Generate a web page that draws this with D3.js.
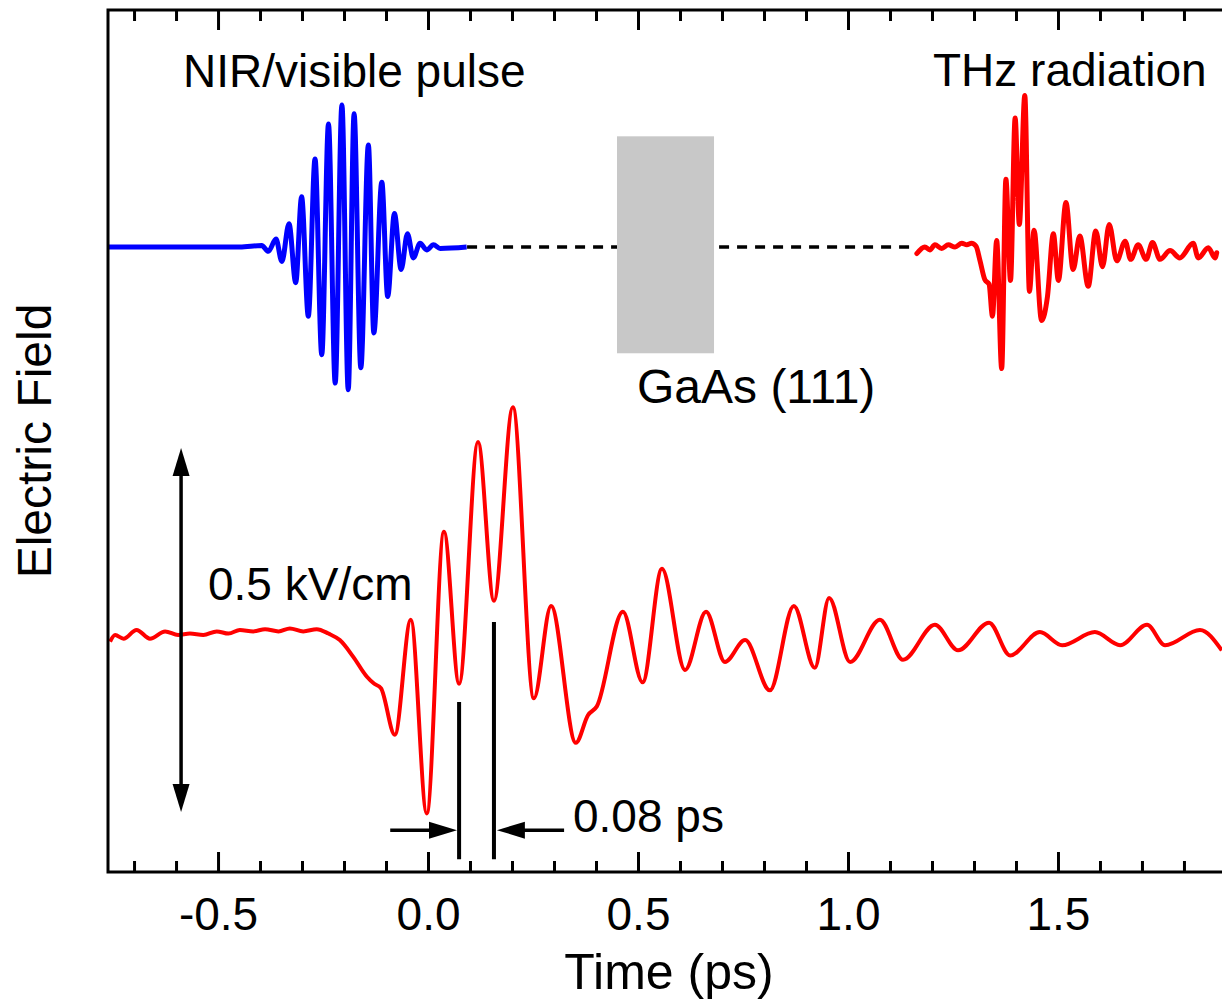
<!DOCTYPE html>
<html>
<head>
<meta charset="utf-8">
<script src="https://cdn.jsdelivr.net/npm/d3@7"></script>
<style>
  html, body { margin: 0; padding: 0; background: #fff; overflow: hidden; }
  text { font-family: Arial, "Liberation Sans", sans-serif; fill: #000; }
</style>
</head>
<body>
<svg id="chart" width="1222" height="1002"></svg>
<script>
// Time axis (ps)
const majorTicks = [-0.5, 0.0, 0.5, 1.0, 1.5];
const minorTicks = [-0.7, -0.6, -0.4, -0.3, -0.2, -0.1, 0.1, 0.2, 0.3, 0.4,
                    0.6, 0.7, 0.8, 0.9, 1.1, 1.2, 1.3, 1.4, 1.6, 1.7, 1.8, 1.9];

// Upper sketch traces are drawn around this field offset (kV/cm)
const upperOffset = 0.533;

// NIR / visible pulse [time ps, field rel. to offset]
const nirPulse = [
  [-0.762, 0], [-0.448, 0], [-0.396, 0.002], [-0.380, -0.006], [-0.362, 0.011],
  [-0.348, -0.020], [-0.331, 0.032], [-0.315, -0.049], [-0.301, 0.069], [-0.285, -0.095],
  [-0.269, 0.121], [-0.253, -0.148], [-0.237, 0.169], [-0.221, -0.187], [-0.205, 0.195],
  [-0.190, -0.196], [-0.176, 0.183], [-0.160, -0.166], [-0.142, 0.140], [-0.129, -0.118],
  [-0.110, 0.089], [-0.096, -0.068], [-0.080, 0.046], [-0.064, -0.031], [-0.049, 0.018],
  [-0.035, -0.015], [-0.019, 0.005], [-0.003, -0.004], [0.013, 0.003], [0.029, -0.002],
  [0.092, 0]
];

// dashed propagation line (time span)
const propagation = [0.093, 1.162];

// GaAs (111) crystal block [t0, t1, v0, v1] rel. to offset
const gaAsBlock = [0.450, 0.681, -0.146, 0.152];

// THz sketch above crystal [time ps, field rel. to offset]
const thzSketch = [
  [1.164, -0.009], [1.183, 0.000], [1.195, -0.004], [1.207, 0.003], [1.223, -0.002],
  [1.239, 0.003], [1.255, 0.000], [1.271, 0.005], [1.283, 0.003], [1.294, 0.005],
  [1.305, 0.001], [1.314, -0.018], [1.326, -0.045], [1.336, -0.051], [1.344, -0.095],
  [1.354, 0.009], [1.366, -0.167], [1.376, 0.093], [1.387, -0.046], [1.398, 0.177],
  [1.408, 0.031], [1.421, 0.208], [1.432, -0.061], [1.443, 0.023], [1.461, -0.101],
  [1.475, -0.068], [1.489, 0.018], [1.501, -0.046], [1.519, 0.061], [1.536, -0.031],
  [1.552, 0.015], [1.572, -0.054], [1.590, 0.022], [1.606, -0.027], [1.622, 0.031],
  [1.640, -0.019], [1.660, 0.008], [1.673, -0.017], [1.691, 0.003], [1.710, -0.017],
  [1.725, 0.006], [1.743, -0.017], [1.767, -0.005], [1.790, -0.015], [1.822, 0.005],
  [1.834, -0.015], [1.858, -0.001], [1.874, -0.015], [1.878, -0.008]
];

// Measured THz waveform [time ps, field kV/cm]
const thzField = [
  [-0.757, -0.009], [-0.745, 0.000], [-0.725, -0.005], [-0.694, 0.007], [-0.662, -0.005],
  [-0.626, 0.005], [-0.595, 0.000], [-0.567, 0.002], [-0.535, 0.000], [-0.503, 0.005],
  [-0.475, 0.002], [-0.448, 0.007], [-0.416, 0.005], [-0.388, 0.008], [-0.356, 0.005],
  [-0.329, 0.009], [-0.297, 0.005], [-0.265, 0.008], [-0.237, 0.002], [-0.210, -0.007],
  [-0.178, -0.030], [-0.146, -0.057], [-0.128, -0.067], [-0.112, -0.073], [-0.079, -0.137],
  [-0.041, 0.021], [-0.003, -0.245], [0.038, 0.142], [0.074, -0.067], [0.119, 0.265],
  [0.157, 0.047], [0.202, 0.313], [0.252, -0.087], [0.293, 0.040], [0.352, -0.148],
  [0.381, -0.110], [0.402, -0.098], [0.464, 0.032], [0.511, -0.065], [0.557, 0.091],
  [0.612, -0.048], [0.662, 0.032], [0.707, -0.037], [0.755, -0.007], [0.814, -0.076],
  [0.871, 0.040], [0.921, -0.045], [0.955, 0.051], [1.005, -0.037], [1.076, 0.021],
  [1.131, -0.034], [1.207, 0.014], [1.262, -0.021], [1.336, 0.017], [1.386, -0.028],
  [1.457, 0.004], [1.510, -0.014], [1.588, 0.004], [1.648, -0.014], [1.712, 0.014],
  [1.755, -0.014], [1.838, 0.007], [1.890, -0.021]
];

// 0.5 kV/cm scale bar [time, from, to]
const scaleBar = [-0.588, -0.243, 0.257];
// 0.08 ps period markers [time, top field]
const periodMarks = [[0.074, -0.092], [0.157, 0.018]];
const markBottom = -0.308;
const arrowLevel = -0.268;
const arrowSpans = [[-0.090, 0.069], [0.324, 0.164]];

const svg = d3.select('#chart');
const plotLeft = 108, plotRight = 1231, plotTop = 10, plotBottom = 872;

const x = d3.scaleLinear().domain([-0.762, 1.912]).range([plotLeft, plotRight]);
const y = d3.scaleLinear().domain([-0.3255, 0.8585]).range([plotBottom, plotTop]);

svg.append('defs').append('clipPath').attr('id', 'plot')
  .append('rect').attr('x', plotLeft).attr('y', plotTop)
  .attr('width', plotRight - plotLeft).attr('height', plotBottom - plotTop);

const plot = svg.append('g').attr('clip-path', 'url(#plot)');

// dashed propagation line
plot.append('line')
  .attr('x1', x(propagation[0])).attr('x2', x(propagation[1]))
  .attr('y1', y(upperOffset)).attr('y2', y(upperOffset))
  .attr('stroke', '#000').attr('stroke-width', 3.5)
  .attr('stroke-dasharray', '10,8');

// crystal
plot.append('rect')
  .attr('x', x(gaAsBlock[0])).attr('width', x(gaAsBlock[1]) - x(gaAsBlock[0]))
  .attr('y', y(upperOffset + gaAsBlock[3]))
  .attr('height', y(upperOffset + gaAsBlock[2]) - y(upperOffset + gaAsBlock[3]))
  .attr('fill', '#c8c8c8');

const upperLine = d3.line()
  .x(d => x(d[0])).y(d => y(d[1] + upperOffset))
  .curve(d3.curveMonotoneX);
const lowerLine = d3.line()
  .x(d => x(d[0])).y(d => y(d[1]))
  .curve(d3.curveMonotoneX);

plot.append('path').datum(nirPulse).attr('d', upperLine)
  .attr('fill', 'none').attr('stroke', '#0000ff').attr('stroke-width', 5)
  .attr('stroke-linejoin', 'round');

plot.append('path').datum(thzSketch).attr('d', upperLine)
  .attr('fill', 'none').attr('stroke', '#ff0000').attr('stroke-width', 5)
  .attr('stroke-linejoin', 'round').attr('stroke-linecap', 'round');

plot.append('path').datum(thzField).attr('d', lowerLine)
  .attr('fill', 'none').attr('stroke', '#ff0000').attr('stroke-width', 4)
  .attr('stroke-linejoin', 'round');

// annotations
const ann = svg.append('g').attr('stroke', '#000').attr('fill', '#000');
const headLen = 28, headHalf = 8.5;

const sx = x(scaleBar[0]), sy0 = y(scaleBar[2]), sy1 = y(scaleBar[1]);
ann.append('line').attr('x1', sx).attr('x2', sx)
  .attr('y1', sy0 + headLen - 2).attr('y2', sy1 - headLen + 2)
  .attr('stroke-width', 3.5);
ann.append('path').attr('stroke', 'none')
  .attr('d', `M${sx},${sy0} L${sx - headHalf},${sy0 + headLen} L${sx + headHalf},${sy0 + headLen} Z`);
ann.append('path').attr('stroke', 'none')
  .attr('d', `M${sx},${sy1} L${sx - headHalf},${sy1 - headLen} L${sx + headHalf},${sy1 - headLen} Z`);

periodMarks.forEach(m => {
  ann.append('line').attr('x1', x(m[0])).attr('x2', x(m[0]))
    .attr('y1', y(m[1])).attr('y2', y(markBottom))
    .attr('stroke-width', 4);
});

arrowSpans.forEach(s => {
  const x0 = x(s[0]), x1 = x(s[1]), ay = y(arrowLevel);
  const dir = Math.sign(x1 - x0);
  ann.append('line').attr('x1', x0).attr('x2', x1 - dir * (headLen - 2))
    .attr('y1', ay).attr('y2', ay).attr('stroke-width', 3.5);
  ann.append('path').attr('stroke', 'none')
    .attr('d', `M${x1},${ay} L${x1 - dir * headLen},${ay - headHalf} L${x1 - dir * headLen},${ay + headHalf} Z`);
});

// axes
const axisG = svg.append('g');
const styleAxis = g => {
  g.select('.domain').remove();
  g.selectAll('line').attr('stroke', '#000').attr('stroke-width', 3);
};

axisG.append('g').attr('transform', `translate(0,${plotBottom})`)
  .call(d3.axisBottom(x).tickValues(majorTicks).tickSize(-20).tickPadding(25)
    .tickFormat(d => d3.format('.1f')(d).replace('\u2212', '-')))
  .call(styleAxis)
  .call(g => g.selectAll('text').attr('font-size', 46)
    .attr('font-family', 'Arial, "Liberation Sans", sans-serif').attr('fill', '#000'));
axisG.append('g').attr('transform', `translate(0,${plotBottom})`)
  .call(d3.axisBottom(x).tickValues(minorTicks).tickSize(-11).tickFormat(''))
  .call(styleAxis);
axisG.append('g').attr('transform', `translate(0,${plotTop})`)
  .call(d3.axisTop(x).tickValues(majorTicks).tickSize(-20).tickFormat(''))
  .call(styleAxis);
axisG.append('g').attr('transform', `translate(0,${plotTop})`)
  .call(d3.axisTop(x).tickValues(minorTicks).tickSize(-11).tickFormat(''))
  .call(styleAxis);

// frame
svg.append('path')
  .attr('d', `M${plotRight},${plotTop} L${plotLeft},${plotTop} L${plotLeft},${plotBottom} L${plotRight},${plotBottom}`)
  .attr('fill', 'none').attr('stroke', '#000').attr('stroke-width', 3);

// labels
svg.append('text').attr('x', 669).attr('y', 989).attr('text-anchor', 'middle')
  .attr('font-size', 50).text('Time (ps)');
svg.append('text').attr('transform', `translate(51,${(plotTop + plotBottom) / 2}) rotate(-90)`)
  .attr('text-anchor', 'middle').attr('font-size', 48).text('Electric Field');

svg.append('text').attr('x', 183).attr('y', 87).attr('font-size', 46).text('NIR/visible pulse');
svg.append('text').attr('x', 933).attr('y', 86).attr('font-size', 46).text('THz radiation');
svg.append('text').attr('x', 637).attr('y', 403).attr('font-size', 48).text('GaAs (111)');
svg.append('text').attr('x', 208).attr('y', 600).attr('font-size', 46).text('0.5 kV/cm');
svg.append('text').attr('x', 573).attr('y', 832).attr('font-size', 46).text('0.08 ps');
</script>
</body>
</html>
